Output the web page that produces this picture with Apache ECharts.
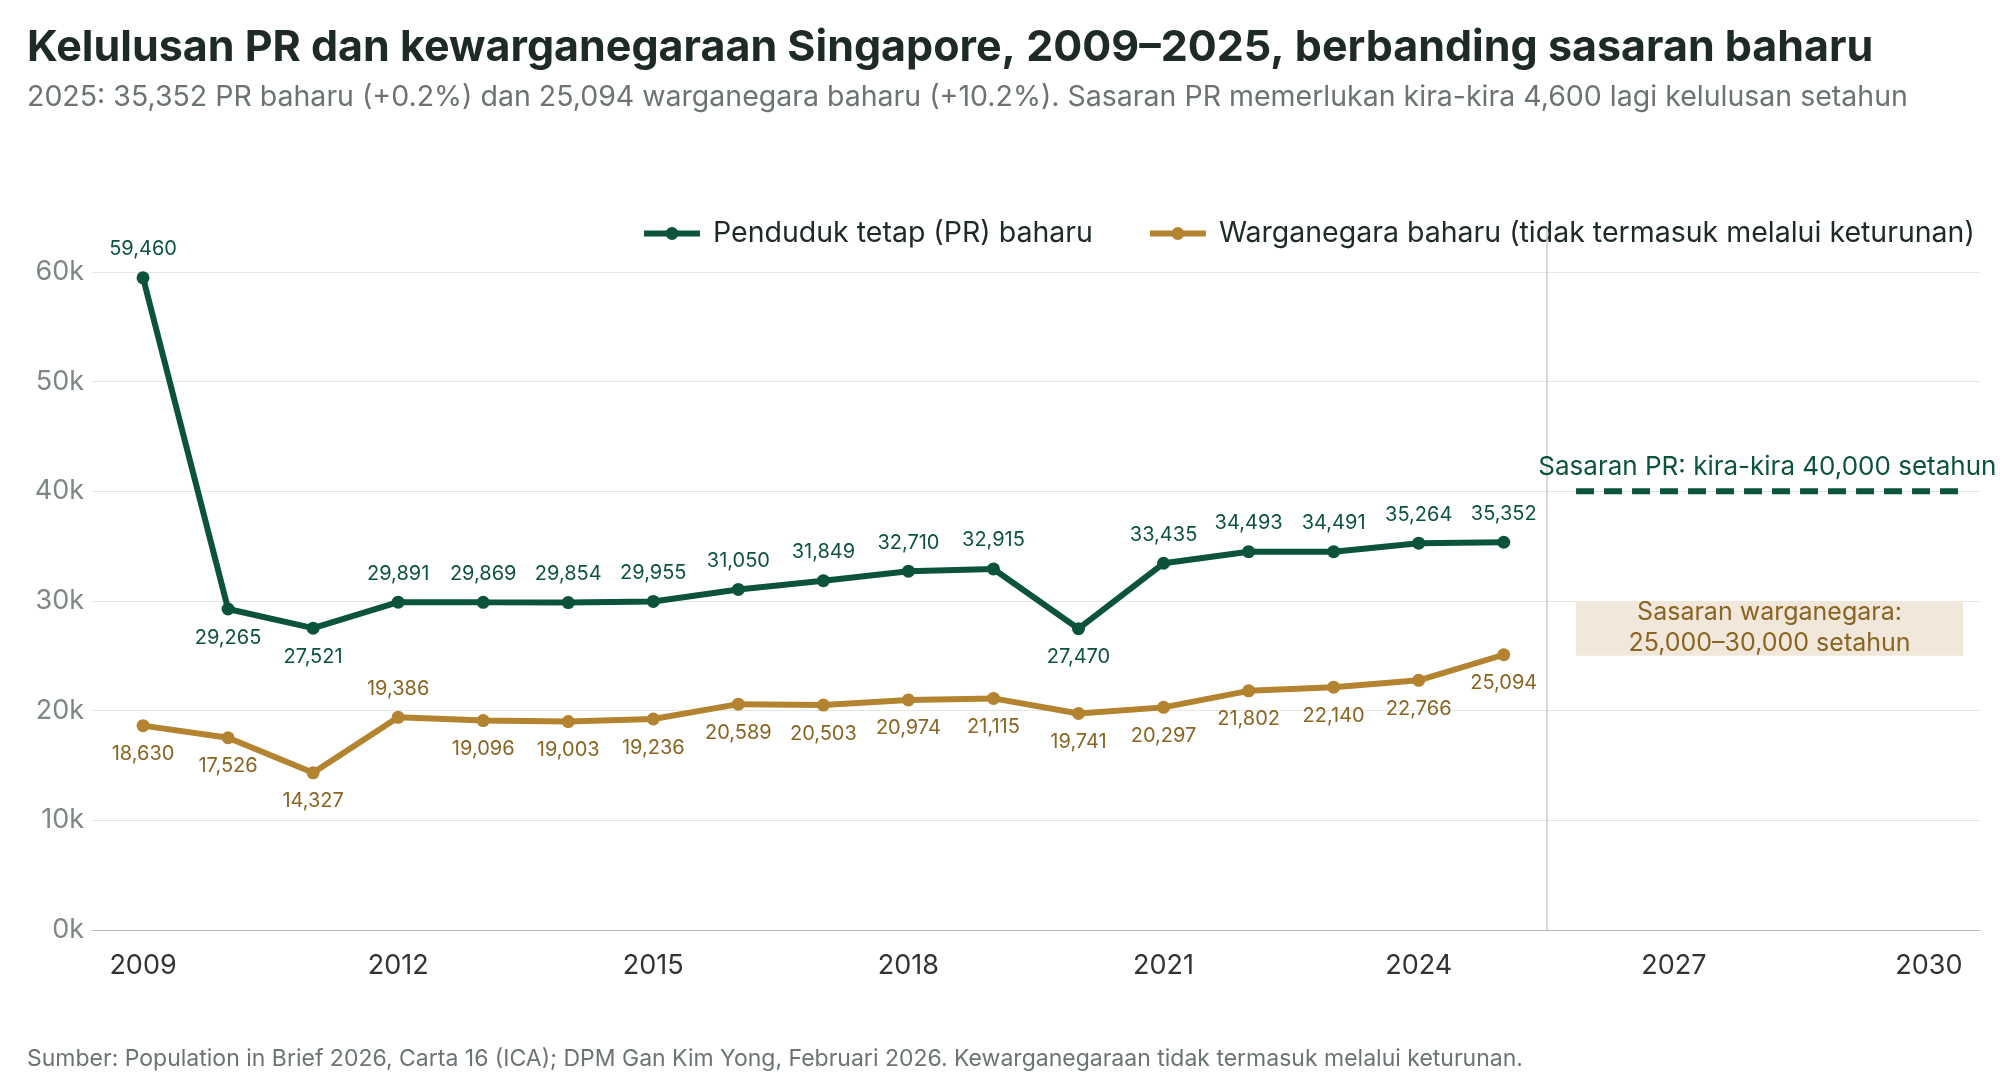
<!DOCTYPE html>
<html lang="ms">
<head>
<meta charset="UTF-8" />
<title>PR dan kewarganegaraan Singapore</title>
<script src="https://cdn.jsdelivr.net/npm/echarts@6/dist/echarts.min.js"></script>
<style>body{margin:0;background:#fff}#c{width:2000px;height:1080px}</style>
</head>
<body>
<div id="c"></div>
<script>
const years = [2009,2010,2011,2012,2013,2014,2015,2016,2017,2018,2019,2020,2021,2022,2023,2024,2025];
const prValues = [59460,29265,27521,29891,29869,29854,29955,31050,31849,32710,32915,27470,33435,34493,34491,35264,35352];
const citValues = [18630,17526,14327,19386,19096,19003,19236,20589,20503,20974,21115,19741,20297,21802,22140,22766,25094];
const prBelow = [2010,2011,2020];
const citAbove = [2012];
const xTicks = [2009,2012,2015,2018,2021,2024,2027,2030];
const prTarget = 40000;
const citTarget = [25000,30000];
const targetYears = [2025.85,2030.4];

const green = '#0b533b', gold = '#b3832f';
const font = 'Inter';

let chart = echarts.init(document.getElementById('c'));
chart.setOption({
  textStyle: {fontFamily: font},
  title: [
    {text: 'Kelulusan PR dan kewarganegaraan Singapore, 2009–2025, berbanding sasaran baharu',
     left: 22, top: 22, textStyle: {fontSize: 43, fontWeight: 'bold', color: '#1d2a26', fontFamily: font}},
    {text: '2025: 35,352 PR baharu (+0.2%) dan 25,094 warganegara baharu (+10.2%). Sasaran PR memerlukan kira-kira 4,600 lagi kelulusan setahun',
     left: 22, top: 78, textStyle: {fontSize: 28.5, fontWeight: 'normal', color: '#6b7472', fontFamily: font}},
    {text: 'Sumber: Population in Brief 2026, Carta 16 (ICA); DPM Gan Kim Yong, Februari 2026. Kewarganegaraan tidak termasuk melalui keturunan.',
     left: 22, top: 1043, textStyle: {fontSize: 23, fontWeight: 'normal', color: '#6b7472', fontFamily: font}}
  ],
  legend: {
    top: 214, left: 636, itemGap: 54, itemWidth: 56, itemHeight: 16,
    textStyle: {fontSize: 28.5, color: '#1d2a26', padding: [0, 0, 0, 8]},
    itemStyle: {borderWidth: 0},
    lineStyle: {width: 6},
    data: ['Penduduk tetap (PR) baharu', 'Warganegara baharu (tidak termasuk melalui keturunan)']
  },
  grid: {left: 92, right: 20, top: 228, bottom: 150, containLabel: false},
  xAxis: {
    type: 'value', min: 2008.4, max: 2030.6,
    splitLine: {show: false},
    axisLine: {lineStyle: {color: '#bbb'}},
    axisTick: {show: false, customValues: xTicks},
    axisLabel: {customValues: xTicks, fontSize: 27, color: '#333', margin: 22, formatter: v => String(v)}
  },
  yAxis: {
    type: 'value', min: 0, max: 64000, interval: 10000,
    axisLine: {show: false}, axisTick: {show: false},
    splitLine: {lineStyle: {color: '#e3e6e5'}, showMaxLine: false},
    axisLabel: {fontSize: 27, color: '#7d8785', showMaxLabel: false, formatter: v => (v / 1000) + 'k'}
  },
  series: [
    {
      name: 'Penduduk tetap (PR) baharu', type: 'line',
      data: years.map((y, i) => ({
        value: [y, prValues[i]],
        label: {position: prBelow.includes(y) ? 'bottom' : 'top'}
      })),
      symbol: 'circle', symbolSize: 13,
      lineStyle: {width: 6, color: green}, itemStyle: {color: green},
      label: {show: true, fontSize: 20, color: green, distance: 12,
        formatter: p => p.value[1].toLocaleString('en-US')},
      markLine: {
        silent: true, symbol: 'none',
        lineStyle: {color: '#c8cccb', width: 1.5, type: 'solid'},
        label: {show: false},
        data: [{xAxis: 2025.5}]
      },
      z: 3
    },
    {
      name: 'Warganegara baharu (tidak termasuk melalui keturunan)', type: 'line',
      data: years.map((y, i) => ({
        value: [y, citValues[i]],
        label: {position: citAbove.includes(y) ? 'top' : 'bottom'}
      })),
      symbol: 'circle', symbolSize: 13,
      lineStyle: {width: 6, color: gold}, itemStyle: {color: gold},
      label: {show: true, fontSize: 20, color: '#8a6421', distance: 12,
        formatter: p => p.value[1].toLocaleString('en-US')},
      markArea: {
        silent: true,
        itemStyle: {color: '#f1e7da'},
        label: {show: true, position: 'inside', fontSize: 25, color: '#8a6421', lineHeight: 31,
          formatter: 'Sasaran warganegara:\n25,000–30,000 setahun'},
        data: [[{xAxis: targetYears[0], yAxis: citTarget[0]}, {xAxis: targetYears[1], yAxis: citTarget[1]}]]
      },
      z: 2
    },
    {
      name: 'Sasaran PR', type: 'line',
      data: targetYears.map(y => [y, prTarget]),
      symbol: 'none', silent: true,
      lineStyle: {width: 6, color: green, type: [18, 10]},
      markPoint: {
        symbol: 'circle', symbolSize: 0,
        label: {show: true, fontSize: 26, color: green, offset: [0, -24],
          formatter: 'Sasaran PR: kira-kira 40,000 setahun'},
        data: [{coord: [2028.1, prTarget]}]
      }
    }
  ]
});
</script>
</body>
</html>
